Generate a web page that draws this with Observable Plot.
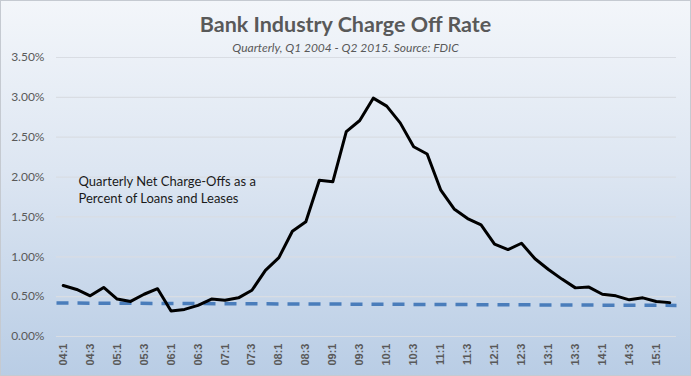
<!DOCTYPE html>
<html><head><meta charset="utf-8">
<script src="https://cdn.jsdelivr.net/npm/d3@7"></script>
<script src="https://cdn.jsdelivr.net/npm/@observablehq/plot@0.6"></script>
<style>
html,body{margin:0;padding:0;background:#fff;}
#chart{width:691px;height:376px;box-sizing:border-box;border:1px solid #c5cad1;
  background:linear-gradient(to bottom,#f3f6fa 0%,#dde6f2 45%,#b9cde5 100%);position:relative;overflow:hidden;}
#head{position:relative;height:44px;}
#title{position:absolute;left:0;right:0;top:11px;text-align:center;font-family:Lato,sans-serif;font-weight:bold;font-size:21.5px;line-height:25px;color:#595959;}
#subtitle{position:absolute;left:0;right:0;top:39.5px;text-align:center;font-family:Lato,sans-serif;font-style:italic;font-size:12px;line-height:14.4px;color:#595959;}
#plot svg{display:block;background:transparent;}
</style></head><body>
<div id="chart">
  <div id="head">
    <div id="title">Bank Industry Charge Off Rate</div>
    <div id="subtitle">Quarterly, Q1 2004 - Q2 2015. Source: FDIC</div>
  </div>
  <div id="plot"></div>
</div>
<script>
const years = ["04","05","06","07","08","09","10","11","12","13","14","15"];
const quarters = years.flatMap(y => [1,2,3,4].map(q => y + ":" + q)).slice(0, 46);
const chargeOffRate = [0.64,0.59,0.51,0.615, 0.47,0.44,0.53,0.60, 0.32,0.34,0.39,0.47,
  0.455,0.485,0.58,0.83, 0.99,1.32,1.44,1.96, 1.94,2.57,2.71,2.99, 2.89,2.68,2.38,2.29,
  1.84,1.60,1.48,1.40, 1.16,1.09,1.17,0.975, 0.84,0.72,0.61,0.62, 0.53,0.51,0.46,0.485, 0.44,0.425];
const trendStart = 0.42, trendEnd = 0.39;
const yTicks = [0,0.5,1,1.5,2,2.5,3,3.5];
const annotation = "Quarterly Net Charge-Offs as a\nPercent of Loans and Leases";

const series = chargeOffRate.map((v,i) => ({i, q: quarters[i], v}));
const xTicks = quarters.map((q,i) => i).filter(i => i % 2 === 0);
const trend = [{i: -0.5, v: trendStart}, {i: quarters.length - 0.5, v: trendEnd}];

const chart = Plot.plot({
  width: 689, height: 330,
  marginTop: 12, marginBottom: 39, marginLeft: 55, marginRight: 14,
  style: {background: "transparent", overflow: "visible"},
  x: {type: "linear", domain: [-0.5, quarters.length - 0.5]},
  y: {domain: [0, 3.5]},
  marks: [
    Plot.gridY(yTicks, {stroke: "#d9dde3", strokeOpacity: 1, strokeWidth: 1.2}),
    Plot.axisY(yTicks, {tickSize: 0, tickPadding: 12, tickFormat: d => d.toFixed(2) + "%", label: null,
      fontFamily: "Lato, sans-serif", fontSize: 12, color: "#595959"}),
    Plot.axisX(xTicks, {tickSize: 0, tickPadding: 7, tickRotate: -90, tickFormat: i => quarters[i], label: null,
      fontFamily: "Liberation Sans, Arial, sans-serif", fontWeight: "bold", fontSize: 11, color: "#595959"}),
    Plot.line(trend, {x: "i", y: "v", stroke: "#4a7dbb", strokeWidth: 3.5, strokeDasharray: "12,9", strokeLinecap: "butt"}),
    Plot.line(series, {x: "i", y: "v", stroke: "#000", strokeWidth: 3, strokeLinejoin: "round"}),
    Plot.text([annotation], {frameAnchor: "top-left", dx: 22, dy: 116, textAnchor: "start", lineAnchor: "top",
      lineHeight: 1.33, fontFamily: "Lato, sans-serif", fontSize: 13, fill: "#1a1a1a"})
  ]
});
document.getElementById("plot").appendChild(chart);
</script>
</body></html>
